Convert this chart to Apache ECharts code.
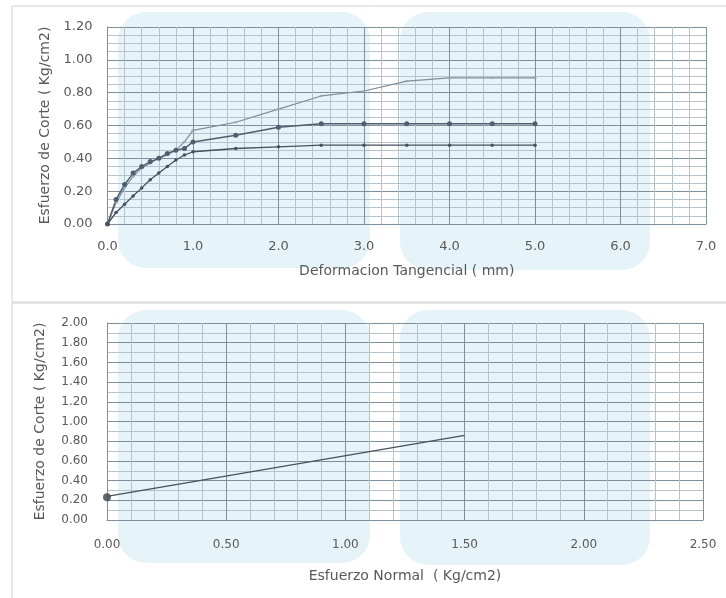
<!DOCTYPE html>
<html><head><meta charset="utf-8">
<script src="https://cdn.jsdelivr.net/npm/echarts@6/dist/echarts.min.js"></script>
<style>html,body{margin:0;padding:0;background:#fff}#c{width:726px;height:598px}</style>
</head><body><div id="c"></div>
<script>
// ---- Top chart: Esfuerzo de Corte vs Deformacion Tangencial ----
const deformacion = [0, 0.1, 0.2, 0.3, 0.4, 0.5, 0.6, 0.7, 0.8, 0.9, 1.0, 1.5, 2.0, 2.5, 3.0, 3.5, 4.0, 4.5, 5.0];
const corteA = [0, 0.13, 0.22, 0.29, 0.34, 0.37, 0.40, 0.42, 0.45, 0.50, 0.57, 0.62, 0.70, 0.78, 0.81, 0.87, 0.89, 0.89, 0.89];
const corteB = [0, 0.15, 0.24, 0.31, 0.35, 0.38, 0.40, 0.43, 0.45, 0.46, 0.50, 0.54, 0.59, 0.61, 0.61, 0.61, 0.61, 0.61, 0.61];
const corteC = [0, 0.07, 0.12, 0.17, 0.22, 0.27, 0.31, 0.35, 0.39, 0.42, 0.44, 0.46, 0.47, 0.48, 0.48, 0.48, 0.48, 0.48, 0.48];
// ---- Bottom chart: envelope ----
const normalX = [0, 1.5];
const envolvente = [0.24, 0.86];
const cohesionX = [0];
const cohesionY = [0.23];

const txt = '#595959';
const font = 'DejaVu Sans';
const axisCol = '#7f8f9c';
const majorLine = {lineStyle:{color:'#7f8f9c', width:1}};
const minorLine = {lineStyle:{color:'#b6c3cc', width:1}};
const pairs = (xs, ys) => xs.map((x,i)=>[x, ys[i]]);

const chart = echarts.init(document.getElementById('c'), null, {renderer:'canvas'});
const wm = 'rgba(150,205,225,0.24)';
chart.setOption({
  animation:false,
  textStyle:{fontFamily:font},
  graphic:[
    {type:'rect', z:-10, shape:{x:12, y:6, width:720, height:296}, style:{fill:'#fff', stroke:'#d0d0d0', lineWidth:1}},
    {type:'rect', z:-10, shape:{x:12, y:303, width:720, height:300}, style:{fill:'#fff', stroke:'#d0d0d0', lineWidth:1}},
    {type:'rect', z:-9, shape:{x:118, y:12, width:252, height:256, r:28}, style:{fill:wm}},
    {type:'rect', z:-9, shape:{x:400, y:12, width:250, height:258, r:28}, style:{fill:wm}},
    {type:'rect', z:-9, shape:{x:118, y:310, width:252, height:253, r:28}, style:{fill:wm}},
    {type:'rect', z:-9, shape:{x:400, y:310, width:250, height:255, r:28}, style:{fill:wm}}
  ],
  grid:[
    {left:107.5, right:20, top:27, height:197},
    {left:107, right:23, top:323, height:197}
  ],
  xAxis:[
    {type:'value', gridIndex:0, min:0, max:7, interval:1,
     name:'Deformacion Tangencial ( mm)', nameLocation:'middle', nameGap:40,
     nameTextStyle:{color:txt, fontSize:14, fontFamily:font},
     axisLine:{show:true, lineStyle:{color:axisCol}}, axisTick:{show:false},
     axisLabel:{color:txt, fontSize:13, margin:16, fontFamily:font, formatter:v=>v.toFixed(1)},
     splitLine:majorLine, minorTick:{show:false, splitNumber:5}, minorSplitLine:Object.assign({show:true}, minorLine)},
    {type:'value', gridIndex:1, min:0, max:2.5, interval:0.5,
     name:'Esfuerzo Normal  ( Kg/cm2)', nameLocation:'middle', nameGap:49,
     nameTextStyle:{color:txt, fontSize:14, fontFamily:font},
     axisLine:{show:true, lineStyle:{color:axisCol}}, axisTick:{show:false},
     axisLabel:{color:txt, fontSize:12, margin:19, fontFamily:font, formatter:v=>v.toFixed(2)},
     splitLine:majorLine, minorTick:{show:false, splitNumber:5}, minorSplitLine:Object.assign({show:true}, minorLine)}
  ],
  yAxis:[
    {type:'value', gridIndex:0, min:0, max:1.2, interval:0.2,
     name:'Esfuerzo de Corte ( Kg/cm2)', nameLocation:'middle', nameGap:55,
     nameTextStyle:{color:txt, fontSize:14, fontFamily:font},
     axisLine:{show:true, lineStyle:{color:axisCol}}, axisTick:{show:false},
     axisLabel:{color:txt, fontSize:13, margin:15, fontFamily:font, formatter:v=>v.toFixed(2)},
     splitLine:majorLine, minorTick:{show:false, splitNumber:4}, minorSplitLine:Object.assign({show:true}, minorLine)},
    {type:'value', gridIndex:1, min:0, max:2, interval:0.2,
     name:'Esfuerzo de Corte ( Kg/cm2)', nameLocation:'middle', nameGap:60,
     nameTextStyle:{color:txt, fontSize:14, fontFamily:font},
     axisLine:{show:true, lineStyle:{color:axisCol}}, axisTick:{show:false},
     axisLabel:{color:txt, fontSize:12, margin:19, fontFamily:font, formatter:v=>v.toFixed(2)},
     splitLine:majorLine, minorTick:{show:false, splitNumber:2}, minorSplitLine:Object.assign({show:true}, minorLine)}
  ],
  series:[
    {type:'line', xAxisIndex:0, yAxisIndex:0, data:pairs(deformacion, corteA),
     symbol:'rect', symbolSize:[3,2], lineStyle:{color:'#7f8d99', width:1.2}, itemStyle:{color:'#9aa6b0'}},
    {type:'line', xAxisIndex:0, yAxisIndex:0, data:pairs(deformacion, corteB),
     symbol:'circle', symbolSize:5, lineStyle:{color:'#4f5f6d', width:1.5}, itemStyle:{color:'#4f5f6d'}},
    {type:'line', xAxisIndex:0, yAxisIndex:0, data:pairs(deformacion, corteC),
     symbol:'circle', symbolSize:3.5, lineStyle:{color:'#45525e', width:1.3}, itemStyle:{color:'#45525e'}},
    {type:'line', xAxisIndex:1, yAxisIndex:1, data:pairs(normalX, envolvente),
     symbol:'none', lineStyle:{color:'#47525c', width:1.3}},
    {type:'scatter', xAxisIndex:1, yAxisIndex:1, data:pairs(cohesionX, cohesionY),
     symbol:'circle', symbolSize:8, itemStyle:{color:'#3b434b'}}
  ]
});
</script></body></html>
